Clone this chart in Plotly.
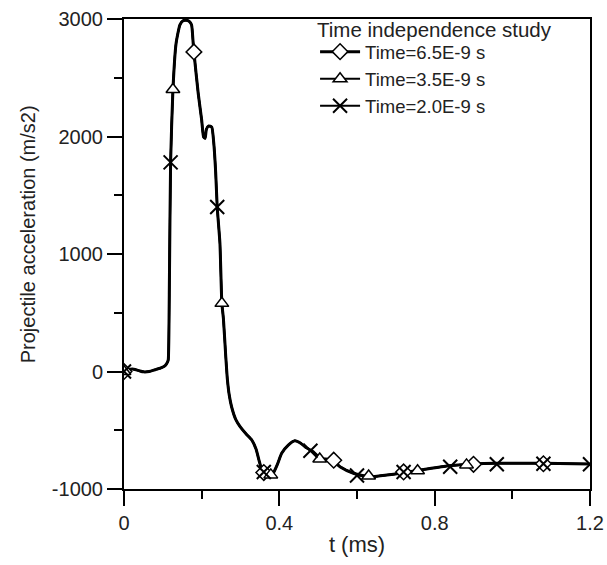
import plotly.graph_objects as go

# Acceleration curve (shared by all three time steps)
t_curve = [0.000, 0.010, 0.025, 0.040, 0.050, 0.065, 0.080, 0.095, 0.106, 0.112,
           0.114, 0.117, 0.120, 0.126, 0.134, 0.144, 0.152, 0.160, 0.168, 0.174,
           0.178, 0.180, 0.191, 0.200, 0.205, 0.209, 0.212, 0.218, 0.226, 0.231,
           0.236, 0.240, 0.247, 0.252, 0.256, 0.262, 0.266, 0.271, 0.277, 0.288,
           0.299, 0.314, 0.329, 0.340, 0.348, 0.355, 0.365, 0.376, 0.385, 0.395,
           0.406, 0.423, 0.440, 0.455, 0.470, 0.487, 0.505, 0.520, 0.535, 0.556,
           0.591, 0.620, 0.642, 0.677, 0.711, 0.760, 0.831, 0.900, 0.960, 1.080,
           1.200]
acc_curve = [0, 15, 20, 5, -3, 0, 15, 30, 50, 80,
             100, 800, 1780, 2400, 2790, 2950, 2985, 2990, 2980, 2950,
             2800, 2720, 2370, 2140, 1995, 1985, 2060, 2090, 2080, 1950,
             1700, 1400, 1094, 580, 450, 130, -60, -200, -300, -410,
             -470, -530, -583, -660, -760, -838, -870, -881, -860, -790,
             -696, -626, -589, -610, -650, -683, -739, -745, -750, -810,
             -866, -890, -895, -881, -866, -840, -804, -787, -781, -781,
             -787]

# Marker locations for each time-step series
t_d65 = [0.0, 0.18, 0.36, 0.54, 0.72, 0.90, 1.08]
a_d65 = [0, 2720, -860, -755, -855, -790, -785]

t_d35 = [0.0, 0.126, 0.252, 0.378, 0.504, 0.630, 0.756, 0.882]
a_d35 = [0, 2400, 580, -880, -745, -890, -845, -795]

t_d20 = [0.0, 0.12, 0.24, 0.36, 0.48, 0.60, 0.72, 0.84, 0.96, 1.08, 1.20]
a_d20 = [0, 1780, 1400, -855, -675, -885, -855, -810, -790, -785, -790]

names = ["Time=6.5E-9 s", "Time=3.5E-9 s", "Time=2.0E-9 s"]
legend_title = "Time independence study"

x_ticks = [0, 0.4, 0.8, 1.2]
x_labels = ["0", "0.4", "0.8", "1.2"]
y_ticks = [-1000, 0, 1000, 2000, 3000]
y_labels = ["-1000", "0", "1000", "2000", "3000"]

FONT = "Liberation Sans, Arial"
TXT = "#222"

fig = go.Figure()

styles = [
    dict(lw=3, marker=dict(symbol="diamond", size=12, color="white",
                           line=dict(color="black", width=1.5)), t=t_d65, a=a_d65),
    dict(lw=2, marker=dict(symbol="triangle-up", size=12, color="white",
                           line=dict(color="black", width=1.5)), t=t_d35, a=a_d35),
    dict(lw=2, marker=dict(symbol="x-thin", size=14, color="black",
                           line=dict(color="black", width=2)), t=t_d20, a=a_d20),
]

for s in styles:
    fig.add_trace(go.Scatter(x=t_curve, y=acc_curve, mode="lines",
                             line=dict(color="black", width=s["lw"], shape="spline", smoothing=0.5),
                             showlegend=False, hoverinfo="skip"))
for s in styles:
    fig.add_trace(go.Scatter(x=s["t"], y=s["a"], mode="markers", marker=s["marker"],
                             showlegend=False))
for name, s in zip(names, styles):
    fig.add_trace(go.Scatter(x=[None], y=[None], mode="lines+markers", name=name,
                             line=dict(color="black", width=s["lw"]), marker=s["marker"]))

axis_common = dict(showline=True, linecolor="black", linewidth=2, mirror=True,
                   ticks="outside", ticklen=15, tickwidth=2, tickcolor="black",
                   showgrid=False, zeroline=False, automargin=False,
                   tickfont=dict(family=FONT, size=20, color=TXT))

fig.update_xaxes(range=[0, 1.2], tickmode="array", tickvals=x_ticks, ticktext=x_labels,
                 minor=dict(dtick=0.2, tick0=0, ticks="outside", ticklen=8, tickwidth=2, tickcolor="black"),
                 title=dict(text="t (ms)", font=dict(family=FONT, size=22, color=TXT), standoff=4),
                 **axis_common)
fig.update_yaxes(range=[-1000, 3000], tickmode="array", tickvals=y_ticks, ticktext=y_labels,
                 minor=dict(dtick=500, tick0=0, ticks="outside", ticklen=8, tickwidth=2, tickcolor="black"),
                 **axis_common)

fig.add_annotation(text="Projectile acceleration (m/s2)", textangle=-90,
                   xref="paper", yref="paper", x=-0.206, y=0.542,
                   xanchor="center", yanchor="middle", showarrow=False,
                   font=dict(family=FONT, size=20, color=TXT))
fig.add_annotation(text=legend_title, xref="paper", yref="paper", x=0.410, y=0.977,
                   xanchor="left", yanchor="middle", showarrow=False,
                   font=dict(family=FONT, size=20.5, color=TXT))

fig.update_layout(
    width=607, height=565,
    margin=dict(l=124, r=17, t=19, b=76),
    paper_bgcolor="white", plot_bgcolor="white",
    font=dict(family=FONT, color=TXT),
    legend=dict(x=0.41, y=0.970, xanchor="left", yanchor="top",
                bgcolor="rgba(0,0,0,0)", borderwidth=0,
                font=dict(family=FONT, size=18.5, color=TXT),
                tracegroupgap=0, itemwidth=40),
)

fig.write_html("out.html")
